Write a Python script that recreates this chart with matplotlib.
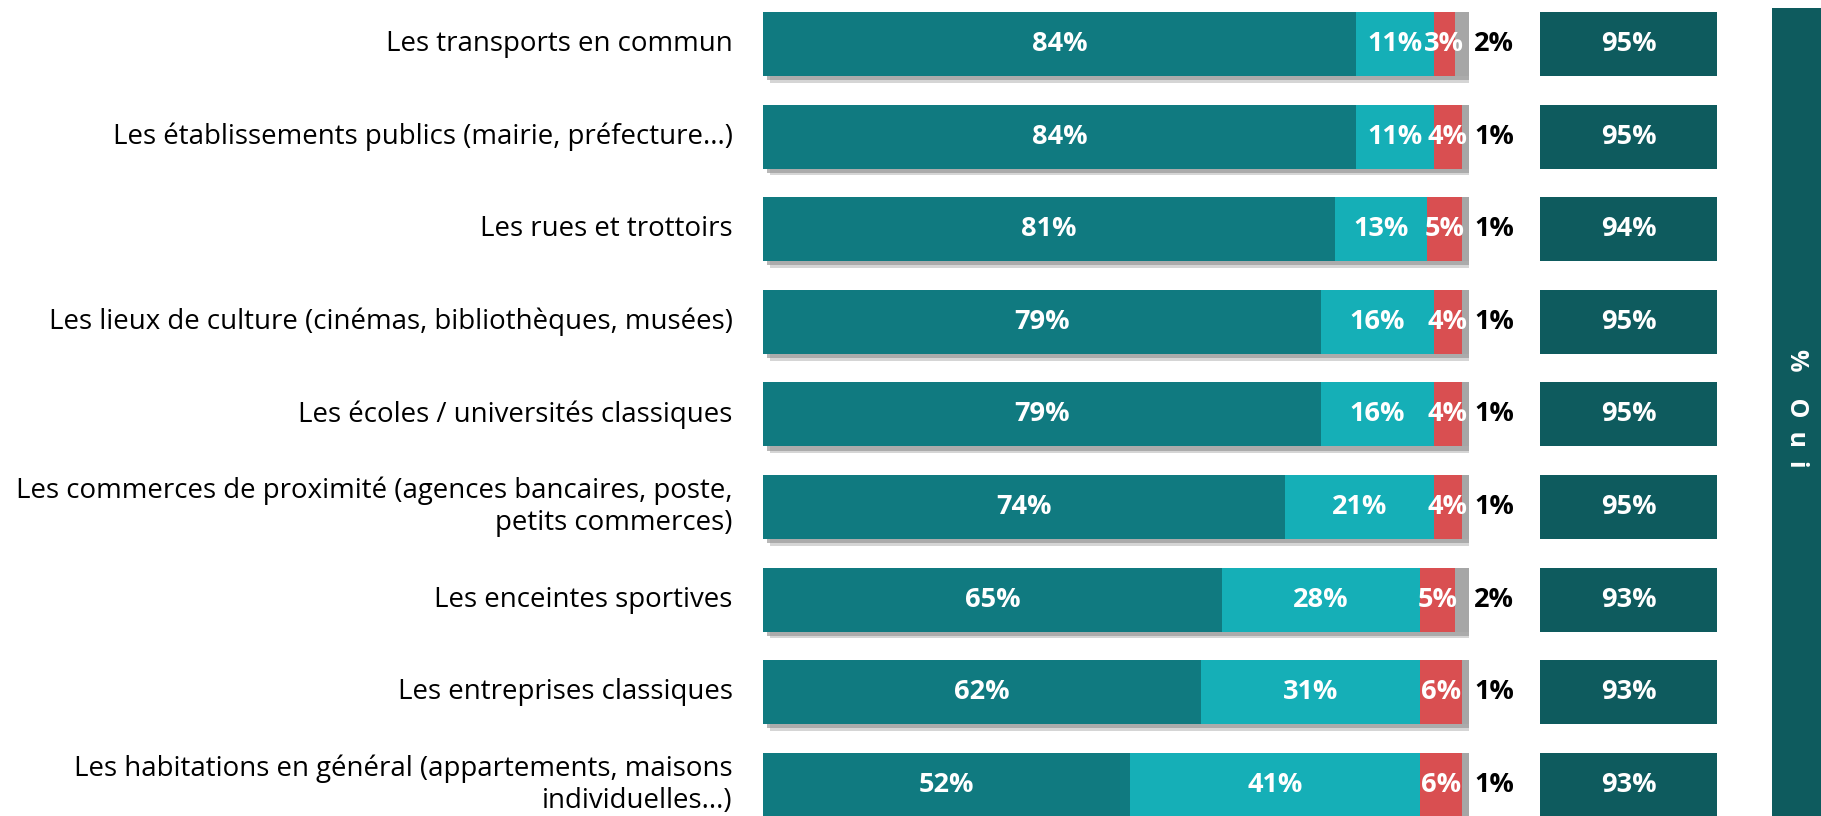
import matplotlib
matplotlib.use('Agg')
import matplotlib.pyplot as plt
import matplotlib.patheffects as pe
from matplotlib.patches import Rectangle

# ─── Data ───
categories = [
    "Les transports en commun",
    "Les établissements publics (mairie, préfecture...)",
    "Les rues et trottoirs",
    "Les lieux de culture (cinémas, bibliothèques, musées)",
    "Les écoles / universités classiques",
    "Les commerces de proximité (agences bancaires, poste,\npetits commerces)",
    "Les enceintes sportives",
    "Les entreprises classiques",
    "Les habitations en général (appartements, maisons\nindividuelles...)",
]
oui_tout_a_fait = [84, 84, 81, 79, 79, 74, 65, 62, 52]
oui_plutot = [11, 11, 13, 16, 16, 21, 28, 31, 41]
non = [3, 4, 5, 4, 4, 4, 5, 6, 6]
nsp = [2, 1, 1, 1, 1, 1, 2, 1, 1]
total_oui = [95, 95, 94, 95, 95, 95, 93, 93, 93]

series = [oui_tout_a_fait, oui_plutot, non, nsp]
colors = ["#107A80", "#15AFB7", "#D94F51", "#A6A6A6"]
oui_color = "#0E5B5E"

plt.rcParams['font.family'] = ['Open Sans', 'DejaVu Sans']

W, H, DPI = 1821, 816, 100
fig = plt.figure(figsize=(W / DPI, H / DPI), dpi=DPI)

ylim = (8.337, -0.475)
bar_h = 0.69
fs_lab = 19.9   # category labels
fs_val = 19.5   # value labels

# ─── Main stacked bars ───
ax = fig.add_axes([763 / W, 0, 706 / W, 1])
ax.set_xlim(0, 100)
ax.set_ylim(*ylim)
ax.axis('off')

ypos = list(range(len(categories)))
shadow = [pe.SimplePatchShadow(offset=(5, -5), shadow_rgbFace='#c4c4c4', alpha=0.7),
          pe.SimplePatchShadow(offset=(3, -3), shadow_rgbFace='#9a9a9a', alpha=0.7),
          pe.Normal()]
left = [0] * len(categories)
for k, (vals, col) in enumerate(zip(series, colors)):
    bars = ax.barh(ypos, vals, left=left, height=bar_h, color=col, linewidth=0)
    for b in bars:
        b.set_path_effects(shadow)
    for i, v in enumerate(vals):
        if k < 3:
            ax.text(left[i] + v / 2, i, f"{v}%", ha='center', va='center',
                    color='white', fontsize=fs_val, fontweight='bold')
        else:
            ax.text(100.7, i, f"{v}%", ha='left', va='center',
                    color='black', fontsize=fs_val, fontweight='bold', clip_on=False)
    left = [l + v for l, v in zip(left, vals)]

# category labels
for i, cat in enumerate(categories):
    ax.text(-4.3, i, cat, ha='right', va='center', fontsize=fs_lab,
            color='black', linespacing=1.2, clip_on=False)

# ─── % Oui column ───
ax2 = fig.add_axes([1540 / W, 0, 177 / W, 1])
ax2.set_xlim(0, 1)
ax2.set_ylim(*ylim)
ax2.axis('off')
ax2.barh(ypos, [1] * len(ypos), height=bar_h, color=oui_color, linewidth=0)
for i, v in enumerate(total_oui):
    ax2.text(0.5, i, f"{v}%", ha='center', va='center', color='white',
             fontsize=fs_val, fontweight='bold')

# side header panel
fig.add_artist(Rectangle((1772 / W, 0), 1 - 1772 / W, 1 - 8 / H,
                         transform=fig.transFigure, color=oui_color, linewidth=0))
fig.text((1772 + (W - 1772) / 2) / W, 0.5, "%    O  u  i", rotation=-90,
         ha='center', va='center', color='white', fontsize=18, fontweight='bold')

fig.savefig('out.png', dpi=DPI)
